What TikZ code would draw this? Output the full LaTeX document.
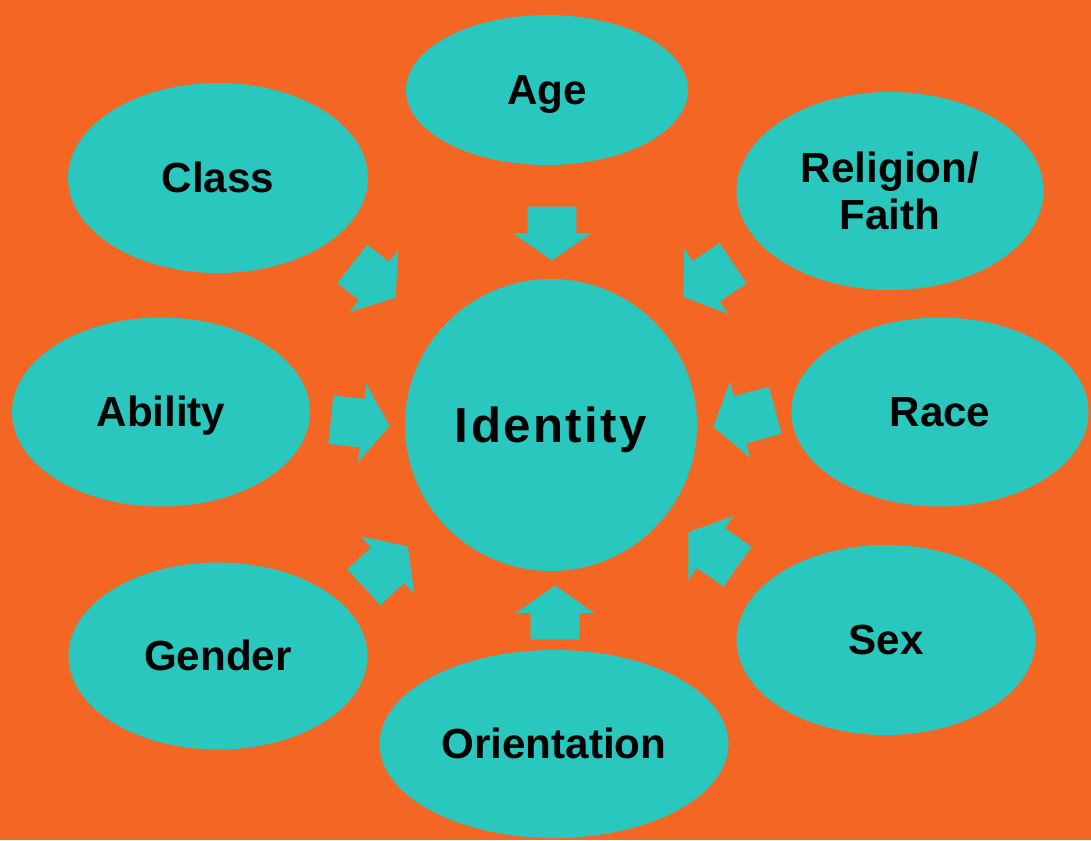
\documentclass[tikz,border=0pt]{standalone}
\usepackage{fontspec}
\setmainfont{Liberation Sans}
\usetikzlibrary{shapes.geometric,shapes.arrows}
\definecolor{bgorange}{HTML}{F46624}
\definecolor{idteal}{HTML}{2AC7BE}

\begin{document}
\begin{tikzpicture}[x=0.02cm,y=-0.02cm,
ov/.style={ellipse, fill=idteal, inner sep=0, align=center, font=\fontsize{24}{27}\selectfont\bfseries},
ovt/.style={ov, text height=17pt, text depth=0pt},
arr/.style={single arrow, fill=idteal, inner xsep=0, inner ysep=0.48cm, single arrow head extend=0.3cm, single arrow tip angle=110, anchor=tip}]
	\fill[bgorange] (0,0) rectangle (1091,840);
	\useasboundingbox (0,0) rectangle (1091,840);
	% centre
	\node[ov, circle, minimum size=5.84cm, text height=20pt, text depth=0pt, font=\fontsize{28}{32}\selectfont\bfseries\addfontfeature{LetterSpace=5}] at (551,425) (identity) {Identity};
	% ring of factors
	\node[ovt, minimum width=5.64cm, minimum height=3.0cm] at (547,90) (age) {Age};
	\node[ovt, minimum width=6.0cm, minimum height=3.8cm] at (218,178) (class) {Class};
	\node[ov, minimum width=6.14cm, minimum height=3.96cm] at (890,191) (religion) {Religion/\\Faith};
	\node[ovt, minimum width=5.96cm, minimum height=3.78cm] at (161,412) (ability) {Ability};
	\node[ovt, minimum width=5.94cm, minimum height=3.78cm] at (940,412) (race) {Race};
	\node[ovt, minimum width=5.98cm, minimum height=3.74cm] at (218,656) (gender) {Gender};
	\node[ovt, minimum width=5.98cm, minimum height=3.8cm] at (886,640) (sex) {Sex};
	\node[ovt, minimum width=6.98cm, minimum height=3.76cm] at (554,744) (orient) {Orientation};
	% block arrows, placed by their tips
	\node[arr, minimum height=1.08cm, rotate=-90] at (552,261) (a1) {};
	\node[arr, minimum height=1.10cm, rotate=-38] at (396,298) (a2) {};
	\node[arr, minimum height=1.20cm, rotate=214] at (683,297) (a3) {};
	\node[arr, minimum height=1.18cm, rotate=-6] at (390,426) (a4) {};
	\node[arr, minimum height=1.28cm, rotate=195] at (713,427) (a5) {};
	\node[arr, minimum height=1.20cm, rotate=43] at (408,546) (a6) {};
	\node[arr, minimum height=1.20cm, rotate=145] at (688,532) (a7) {};
	\node[arr, minimum height=1.08cm, rotate=90] at (555,585) (a8) {};
\end{tikzpicture}
\end{document}
